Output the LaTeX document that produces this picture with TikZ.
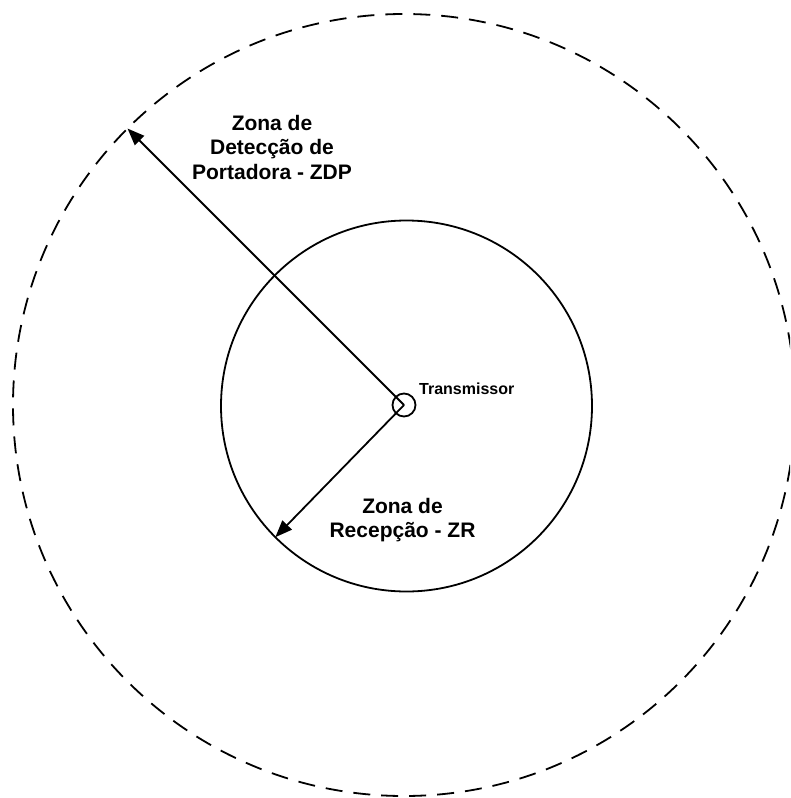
\documentclass[tikz,border=0pt]{standalone}
\usepackage{fontspec}
\setmainfont{Liberation Sans}
\usetikzlibrary{arrows.meta}

\begin{document}
\begin{tikzpicture}[x=1pt,y=-1pt,
  zone/.style={circle,draw,line width=1.8pt,inner sep=0pt,outer sep=0pt},
  ray/.style={line width=1.8pt,-{Triangle[length=17pt,width=13pt]}},
  zonelabel/.style={align=center,inner sep=0pt,
    font=\fontsize{21}{24.5}\selectfont\bfseries},
  txlabel/.style={inner sep=0pt,font=\fontsize{16}{18}\selectfont\bfseries}]
  \useasboundingbox (0,0) rectangle (790,798);
  \clip (0,0) rectangle (790,798);

  % carrier detection zone (dashed) and reception zone
  \node[zone,dash pattern=on 17pt off 11pt,minimum size=782pt] (zdp) at (404,405) {};
  \node[zone,minimum size=371pt] (zr) at (406.5,406) {};

  % transmitter
  \node[zone,minimum size=23pt] (tx) at (404,405) {};
  \node[txlabel,anchor=base west] (txl) at (419,394.5) {Transmissor};

  % radii
  \draw[ray] (tx.center) -- (zdp.135);
  \draw[ray] (tx.center) -- (zr.225);

  % zone labels
  \node[zonelabel] (lzdp) at (272,147) {Zona de\\Detecção de\\Portadora - ZDP};
  \node[zonelabel] (lzr) at (402.5,520) {Zona de\\Recepção - ZR};
\end{tikzpicture}
\end{document}
